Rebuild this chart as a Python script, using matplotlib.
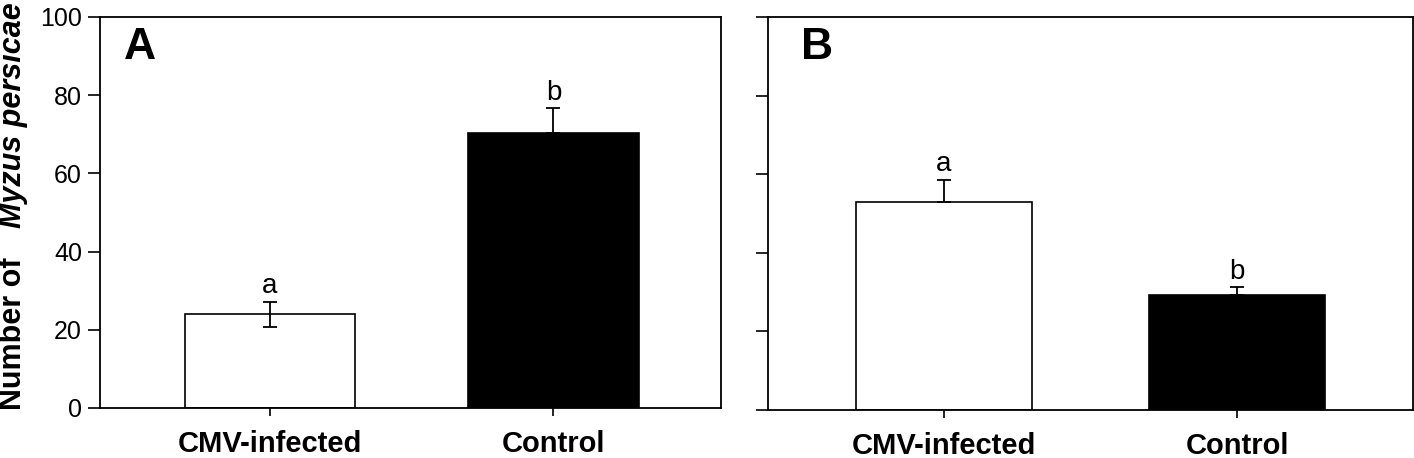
import numpy as np
from matplotlib import pyplot as plt

plt.rcParams["font.family"] = ["Liberation Sans", "DejaVu Sans"]

categories = ["CMV-infected", "Control"]

# panel A
a_means = [24.0, 70.2]
a_errs = [3.2, 6.4]
a_letters = ["a", "b"]

# panel B
b_means = [52.8, 29.2]
b_errs = [5.8, 2.0]
b_letters = ["a", "b"]

colors = ["white", "black"]
yticks = [0, 20, 40, 60, 80, 100]


def draw_panel(ax, means, errs, letters, tag, tag_x, show_labels, lower_first):
    x = np.arange(len(categories))
    ax.bar(x, means, width=0.6, color=colors, edgecolor="black", linewidth=1.2, zorder=2)
    for i in range(len(x)):
        lo = errs[i] if (i == 0 and lower_first) else 0
        ax.errorbar(x[i], means[i], yerr=[[lo], [errs[i]]], fmt="none",
                    ecolor="black", elinewidth=1.3, capsize=5, capthick=1.3, zorder=3)
        ax.text(x[i], means[i] + errs[i] + 0.6, letters[i], ha="center", va="bottom",
                fontsize=20)
    ax.set_ylim(0, 100)
    ax.set_yticks(yticks)
    ax.set_xticks(x)
    ax.set_xticklabels(categories, fontsize=21, fontweight="bold")
    ax.tick_params(axis="y", direction="out", length=9, width=1.2, labelsize=18,
                   labelleft=show_labels, pad=4)
    ax.tick_params(axis="x", direction="out", length=6, width=1.2, pad=10)
    for s in ax.spines.values():
        s.set_linewidth(1.3)
    ax.text(tag_x, 0.975, tag, transform=ax.transAxes, fontsize=32, fontweight="bold",
            va="top", ha="left")


fig = plt.figure(figsize=(14.14, 4.58), dpi=100)
ax1 = fig.add_axes([0.0707, 0.1092, 0.439, 0.854])
ax2 = fig.add_axes([0.543, 0.105, 0.456, 0.858])

draw_panel(ax1, a_means, a_errs, a_letters, "A", 0.038, True, True)
ax1.set_xlim(-0.6, 1.59)
draw_panel(ax2, b_means, b_errs, b_letters, "B", 0.052, False, False)
ax2.set_xlim(-0.6, 1.598)

# y label in two parts, bold + bold italic
fig.text(0.009, 1 - 410 / 458, "Number of", rotation=90, rotation_mode="anchor",
         ha="left", va="center", fontsize=22, fontweight="bold")
fig.text(0.009, 1 - 228 / 458, "Myzus persicae", rotation=90, rotation_mode="anchor",
         ha="left", va="center", fontsize=22, fontweight="bold", fontstyle="italic")

plt.savefig("out.png", dpi=100)
